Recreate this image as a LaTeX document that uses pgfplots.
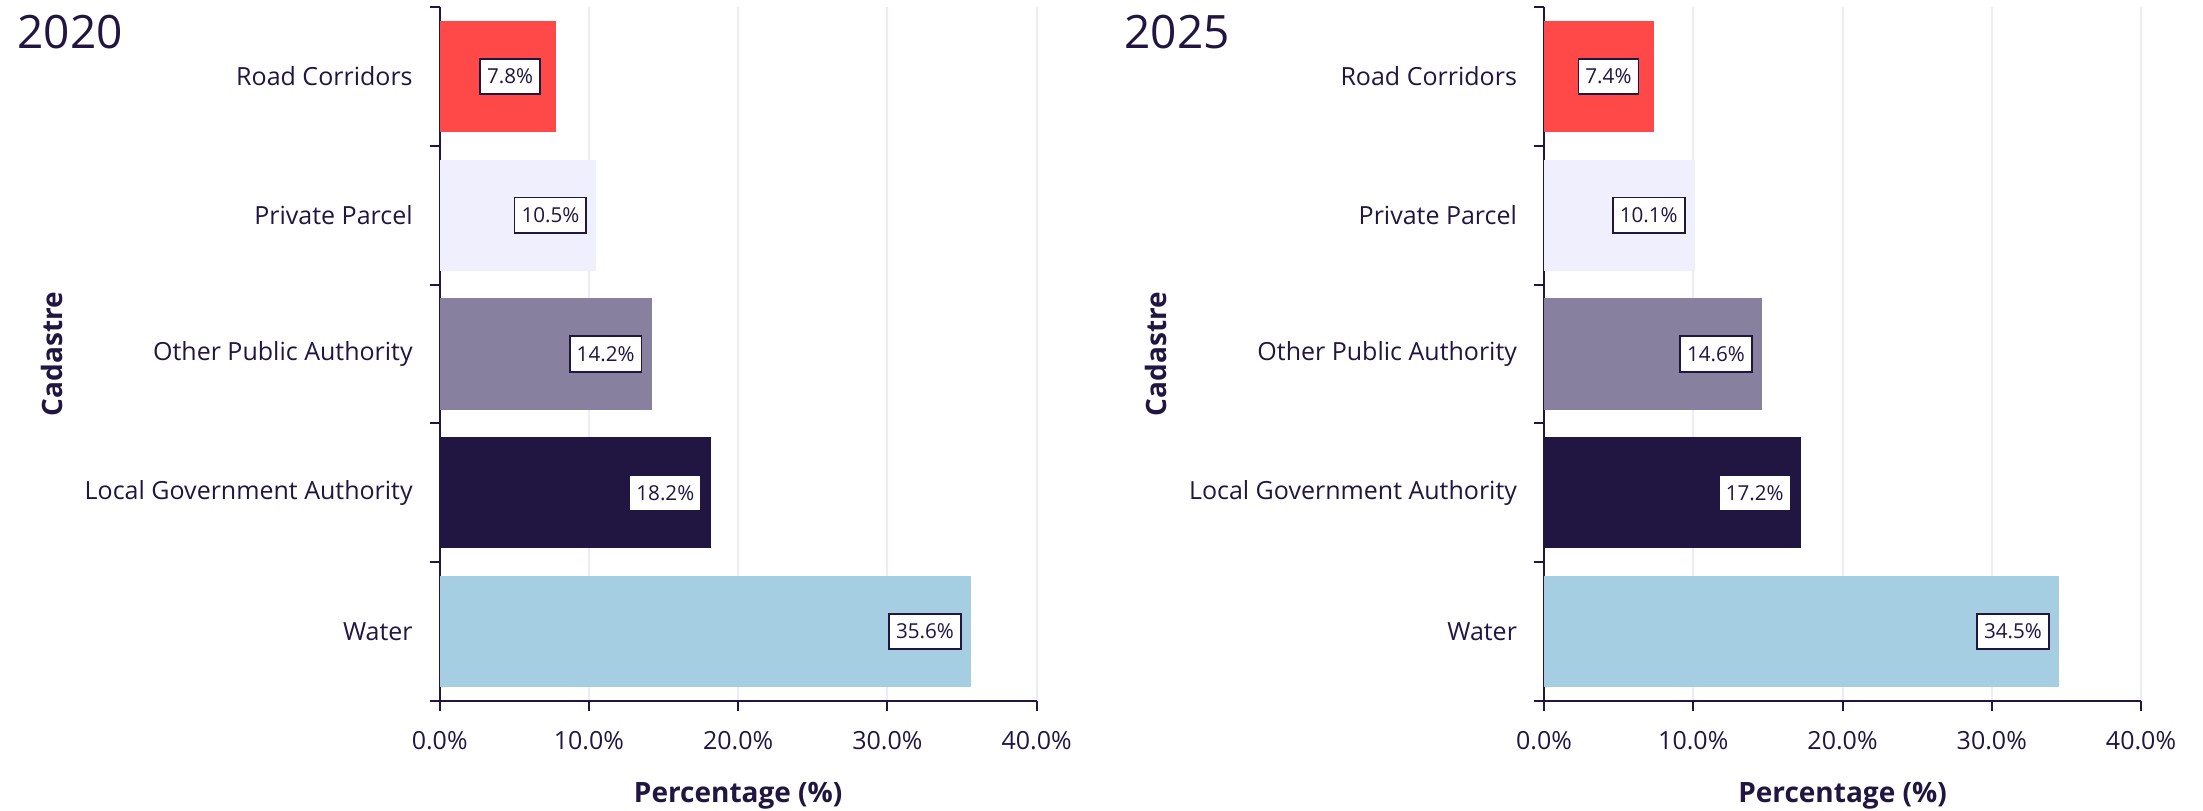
\documentclass[border=0pt]{standalone}
\usepackage{pgfplots}
\pgfplotsset{compat=1.18}
\usepackage{fontspec}
\setmainfont{Open Sans}
\definecolor{navy}{HTML}{201641}
\definecolor{roadred}{HTML}{FF4848}
\definecolor{privlav}{HTML}{EFEFFD}
\definecolor{othergrey}{HTML}{87809F}
\definecolor{waterblue}{HTML}{A6CEE3}
\definecolor{gridcol}{HTML}{ECECF9}
\pgfplotsset{
  cadstyle/.style={
    scale only axis, width=298.5bp, height=347bp,
    xbar, bar width=0.8, bar shift=0pt,
    xmin=0, xmax=40, ymin=-0.5, ymax=4.5,
    axis x line*=bottom, axis y line*=left,
    axis line style={-, navy, line width=1bp},
    tick align=outside,
    major tick length=5bp, minor tick length=5bp,
    every tick/.style={navy, line width=1bp},
    every major y tick/.style={draw=none},
    xtick={0,10,20,30,40},
    xticklabel={\pgfmathprintnumber[fixed,fixed zerofill,precision=1]{\tick}\%},
    /pgf/number format/assume math mode=true,
    ytick={0,1,2,3,4},
    yticklabels={Water, Local Government Authority, Other Public Authority, Private Parcel, Road Corridors},
    minor ytick={-0.5,0.5,1.5,2.5,3.5,4.5},
    xmajorgrids=true,
    major grid style={gridcol, line width=1bp},
    xticklabel style={font=\fontsize{12.5bp}{15bp}\selectfont, text=navy, yshift=-6.5bp},
    yticklabel style={font=\fontsize{12.5bp}{15bp}\selectfont, text=navy, xshift=-5bp},
    xlabel={Percentage (\%)},
    ylabel={Cadastre},
    xlabel style={font=\fontsize{14bp}{17bp}\selectfont\bfseries, text=navy, at={(axis description cs:0.5,-0.136)}, anchor=center},
    ylabel style={font=\fontsize{14bp}{17bp}\selectfont\bfseries, text=navy, at={(axis description cs:-0.65,0.5)}, anchor=center},
    point meta=x,
    nodes near coords={\pgfmathprintnumber[fixed,fixed zerofill,precision=1]{\pgfplotspointmeta}\%},
    every node near coord/.append style={anchor=center, xshift=-23bp, fill=white, draw=navy, line width=0.9bp, text=navy, font=\fontsize{10.3bp}{12bp}\selectfont, inner xsep=3.5bp, inner ysep=5bp},
  }
}
\begin{document}
\begin{tikzpicture}
\begin{axis}[cadstyle, at={(219.85bp,55bp)}, anchor=south west]
\addplot[fill=roadred, draw=none] coordinates {(7.8,4)};
\addplot[fill=privlav, draw=none] coordinates {(10.5,3)};
\addplot[fill=othergrey, draw=none] coordinates {(14.2,2)};
\addplot[fill=navy, draw=none] coordinates {(18.2,1)};
\addplot[fill=waterblue, draw=none] coordinates {(35.6,0)};
\end{axis}
\begin{axis}[cadstyle, at={(772bp,55bp)}, anchor=south west]
\addplot[fill=roadred, draw=none] coordinates {(7.4,4)};
\addplot[fill=privlav, draw=none] coordinates {(10.1,3)};
\addplot[fill=othergrey, draw=none] coordinates {(14.6,2)};
\addplot[fill=navy, draw=none] coordinates {(17.2,1)};
\addplot[fill=waterblue, draw=none] coordinates {(34.5,0)};
\end{axis}
\node[anchor=base west, inner sep=0pt, text=navy, font=\fontsize{23bp}{27bp}\selectfont] at (8.5bp,381bp) {2020};
\node[anchor=base west, inner sep=0pt, text=navy, font=\fontsize{23bp}{27bp}\selectfont] at (562bp,381bp) {2025};
\pgfresetboundingbox
\path[use as bounding box] (0,0) rectangle (1101.5bp,405.5bp);
\end{tikzpicture}
\end{document}
